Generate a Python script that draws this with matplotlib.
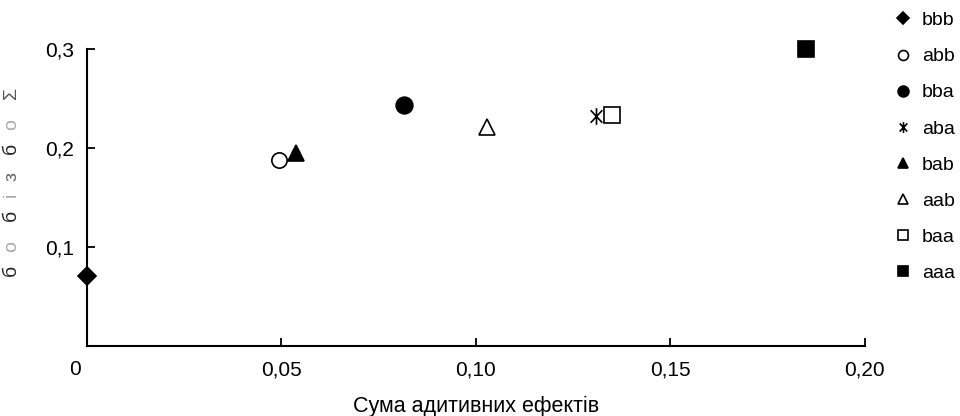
import numpy as np
import matplotlib.pyplot as plt
from matplotlib.path import Path
from matplotlib.transforms import ScaledTranslation

plt.rcParams['font.family'] = ['Liberation Sans', 'DejaVu Sans']

# data
labels = ['bbb', 'abb', 'bba', 'aba', 'bab', 'aab', 'baa', 'aaa']
x_vals = [0.0, 0.0494, 0.0816, 0.131, 0.0538, 0.103, 0.135, 0.185]
y_vals = [0.071, 0.188, 0.244, 0.232, 0.195, 0.221, 0.233, 0.300]

x_ticks = [0, 0.05, 0.10, 0.15, 0.20]
x_ticklabels = ['0', '0,05', '0,10', '0,15', '0,20']
y_ticks = [0.1, 0.2, 0.3]
y_ticklabels = ['0,1', '0,2', '0,3']

# y label came out in a broken symbol font in the original; glyphs bottom -> top
ylab_chars = ['б', 'о', 'б', 'і', 'з', 'б', 'о', 'Σ']
ylab_colors = ['#222222', '#aaaaaa', '#222222', '#aaaaaa', '#666666', '#222222', '#aaaaaa', '#555555']
ylab_pix = [270, 247, 215, 195, 177, 148, 125, 93]   # pixel rows of the glyphs

asterisk = Path([(0, -1), (0, 1), (-0.7, -0.75), (0.7, 0.75), (-0.7, 0.75), (0.7, -0.75)],
                [Path.MOVETO, Path.LINETO, Path.MOVETO, Path.LINETO, Path.MOVETO, Path.LINETO])

styles = {
    'bbb': dict(marker='D', ms=9, mfc='black'),
    'abb': dict(marker='o', ms=11, mfc='white'),
    'bba': dict(marker='o', ms=12, mfc='black'),
    'aba': dict(marker=asterisk, ms=12, mfc='none'),
    'bab': dict(marker='^', ms=12, mfc='black'),
    'aab': dict(marker='^', ms=12, mfc='white'),
    'baa': dict(marker='s', ms=12, mfc='white'),
    'aaa': dict(marker='s', ms=12, mfc='black'),
}

fig = plt.figure(figsize=(9.6, 4.16), dpi=100)
ax = fig.add_axes([0.0906, 0.168, 0.81, 0.714])

handles = []
for lab, x, y in zip(labels, x_vals, y_vals):
    st = styles[lab]
    h, = ax.plot([x], [y], linestyle='none', marker=st['marker'], markersize=st['ms'],
                 markerfacecolor=st['mfc'], markeredgecolor='black', markeredgewidth=1.2,
                 label=lab, clip_on=False, zorder=3)
    handles.append(h)

ax.set_xlim(0, 0.2)
ax.set_ylim(0, 0.3)
ax.set_xticks(x_ticks)
ax.set_xticklabels(x_ticklabels)
ax.set_yticks(y_ticks)
ax.set_yticklabels(y_ticklabels)
ax.tick_params(direction='in', length=6, width=1.3, labelsize=15, pad=10)
ax.tick_params(axis='y', pad=9)

# "0" label sits left of the origin
t0 = ax.get_xticklabels()[0]
t0.set_horizontalalignment('right')
t0.set_transform(t0.get_transform() + ScaledTranslation(-0.06, 0, fig.dpi_scale_trans))

for s in ['top', 'right']:
    ax.spines[s].set_visible(False)
for s in ['left', 'bottom']:
    ax.spines[s].set_linewidth(1.5)

ax.set_xlabel('Сума адитивних ефектів', fontsize=15.5, labelpad=12)

for ch, col, py in zip(ylab_chars, ylab_colors, ylab_pix):
    fig.text(0.012, 1 - py / 416, ch, rotation=90, fontsize=14, color=col,
             ha='center', va='center')

fig.legend(handles=handles, loc='upper left', bbox_to_anchor=(0.92, 1.0),
           frameon=False, fontsize=14, markerscale=0.65, handlelength=0.8,
           handletextpad=0.6, labelspacing=0.95, borderaxespad=0.2)

fig.savefig('out.png', dpi=100)
